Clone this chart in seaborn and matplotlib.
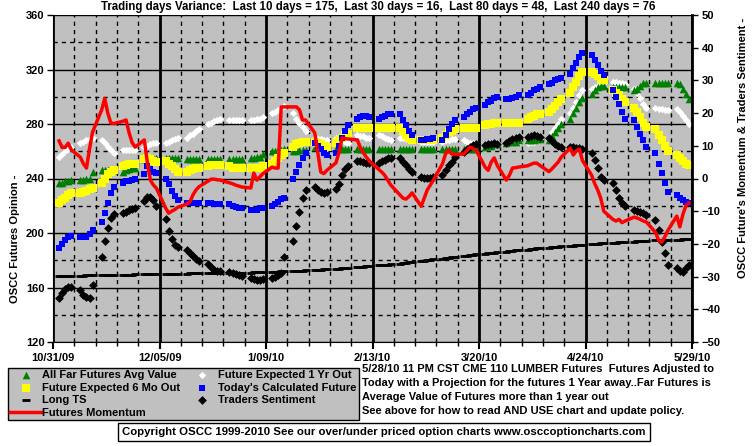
import matplotlib
matplotlib.use("Agg")
import matplotlib.pyplot as plt
import matplotlib.dates as mdates
from matplotlib.ticker import FixedLocator, MultipleLocator
import pandas as pd
import seaborn as sns

# Data: one value per trading day, 5 values per line = one week (Nov 2 2009 .. May 28 2010)
trade_days = pd.bdate_range("2009-11-02", "2010-05-28")

# left axis (OSCC Futures Opinion)
far_avg = [
    237, 237, 238, 238, 239,  239, 239, 240, 240, 245,  246, 246, 246, 247, 247,
    245, 246, 247, 248, 248,  254, 254, 255, 255, 255,  255, 255, 255, 255, 255,
    254, 254, 254, 254, 254,  254, 254, 254, 254, 254,  254, 254, 254, 254, 254,
    255, 255, 256, 256, 258,  260, 260, 261, 261, 262,  260, 260, 261, 261, 261,
    263, 264, 264, 264, 264,  262, 262, 262, 262, 262,  262, 262, 262, 262, 262,
    262, 262, 262, 262, 262,  262, 262, 262, 262, 262,  262, 262, 262, 262, 262,
    262, 262, 262, 262, 262,  262, 262, 262, 262, 262,  263, 264, 264, 265, 265,
    266, 267, 267, 267, 268,  268, 268, 268, 269, 269,  268, 271, 274, 277, 280,
    284, 288, 292, 296, 299,  302, 305, 307, 308, 308,  307, 307, 307, 307, 307,
    305, 306, 308, 310, 310,  310, 310, 310, 310, 310,  310, 309, 306, 302, 298,
]
six_mo = [
    222, 224, 226, 228, 229,  229, 230, 231, 232, 233,  237, 240, 243, 245, 246,
    249, 250, 251, 251, 251,  254, 255, 254, 253, 252,  253, 251, 249, 247, 245,
    245, 246, 247, 248, 248,  249, 250, 250, 250, 250,  249, 248, 248, 248, 248,
    248, 248, 248, 248, 249,  251, 253, 255, 257, 259,  263, 265, 266, 267, 267,
    267, 266, 265, 264, 263,  266, 268, 270, 272, 273,  277, 277, 277, 277, 277,
    277, 277, 277, 277, 277,  277, 275, 272, 270, 268,  268, 268, 268, 268, 268,
    270, 272, 274, 275, 276,  277, 277, 277, 277, 277,  279, 280, 280, 281, 281,
    281, 281, 281, 281, 281,  284, 285, 286, 287, 287,  289, 291, 293, 296, 298,
    303, 307, 311, 315, 318,  318, 317, 315, 313, 312,  305, 303, 301, 298, 296,
    292, 289, 285, 281, 278,  276, 272, 268, 264, 260,  257, 255, 253, 251, 250,
]
one_yr = [
    256, 258, 260, 262, 263,  266, 267, 268, 269, 270,  268, 266, 263, 261, 259,
    261, 261, 261, 261, 261,  263, 264, 265, 266, 266,  266, 267, 268, 269, 270,
    270, 272, 273, 275, 276,  280, 281, 282, 283, 284,  283, 283, 283, 283, 283,
    283, 283, 284, 284, 285,  288, 289, 290, 292, 293,  288, 284, 281, 278, 275,
    270, 269, 269, 268, 268,  270, 269, 268, 267, 266,  272, 271, 271, 270, 270,
    272, 271, 270, 269, 268,  270, 270, 269, 269, 268,  267, 267, 267, 267, 267,
    267, 268, 268, 269, 269,  268, 267, 266, 266, 265,  265, 265, 266, 266, 266,
    265, 266, 266, 267, 267,  266, 267, 267, 268, 269,  270, 274, 277, 280, 284,
    288, 292, 296, 301, 305,  306, 307, 308, 309, 310,  311, 311, 310, 310, 309,
    306, 303, 299, 295, 292,  292, 291, 291, 290, 290,  291, 289, 286, 283, 280,
]
today_calc = [
    189, 192, 195, 197, 198,  197, 197, 197, 199, 202,  208, 215, 222, 229, 234,
    237, 238, 238, 239, 240,  243, 249, 247, 245, 244,  240, 236, 231, 227, 224,
    222, 222, 222, 222, 222,  222, 222, 221, 221, 221,  221, 220, 219, 218, 218,
    217, 217, 217, 218, 218,  220, 221, 223, 225, 226,  240, 245, 250, 255, 259,
    266, 264, 262, 259, 257,  259, 264, 270, 275, 279,  284, 285, 286, 286, 285,
    284, 285, 286, 287, 287,  287, 283, 279, 275, 272,  268, 268, 269, 269, 270,
    268, 272, 276, 280, 283,  285, 287, 289, 291, 292,  294, 296, 297, 299, 300,
    298, 298, 299, 300, 301,  301, 303, 305, 306, 307,  309, 310, 312, 313, 314,
    317, 321, 325, 329, 332,  331, 327, 323, 319, 316,  305, 300, 295, 289, 284,
    283, 278, 273, 268, 263,  259, 251, 244, 237, 230,  228, 226, 224, 223, 222,
]

# right axis (Momentum & Traders Sentiment)
momentum = [
    11.5, 9.5, 9.5, 10.8, 8.8,  6.5, 4.5, 3.2, 9.0, 14.2,  21.0, 24.5, 20.0, 17.0, 16.8,
    17.5, 17.9, 14.0, 11.0, 9.6,  11.8, 5.0, -0.5, -2.0, -3.0,  -9.0, -10.6, -10.0, -9.5, -8.8,
    -7.8, -7.2, -5.0, -3.5, -2.5,  -0.8, -0.2, -0.2, -0.4, -0.5,  -1.3, -1.6, -2.0, -2.3, -2.6,
    -2.9, 1.7, -0.5, 0.5, 1.5,  3.5, 3.2, 3.2, 21.9, 21.9,  21.9, 21.9, 21.0, 17.9, 17.9,
    14.0, 8.0, 2.0, 1.5, 2.5,  4.8, 8.0, 12.4, 12.2, 12.1,  11.8, 9.5, 7.8, 6.5, 5.3,
    2.8, 2.0, 1.0, -0.5, -2.0,  -5.0, -6.0, -6.3, -5.5, -4.4,  -8.5, -6.0, -3.5, -2.0, -0.5,
    4.5, 7.5, 8.7, 7.5, 7.3,  7.5, 8.5, 9.6, 9.2, 8.7,  3.5, 2.5, 5.0, 6.3, 4.0,
    -0.5, 1.0, 3.2, 3.3, 3.5,  3.9, 4.3, 4.7, 4.7, 4.0,  2.1, 3.0, 4.0, 5.0, 6.5,
    9.3, 7.2, 8.5, 9.0, 5.5,  1.0, -1.5, -3.5, -6.0, -10.0,  -12.5, -13.0, -12.5, -13.5, -13.0,
    -11.8, -12.1, -12.5, -13.0, -13.3,  -16.5, -18.8, -19.5, -18.0, -16.0,  -11.5, -14.8, -11.0, -8.3, -7.5,
]
sentiment = [
    -36.5, -35.0, -33.8, -33.2, -33.2,  -34.0, -35.5, -36.2, -36.5, -32.6,  -24.0, -19.0, -15.0, -12.0, -11.0,
    -10.6, -10.2, -9.6, -9.3, -9.0,  -7.0, -5.7, -5.8, -6.5, -8.3,  -12.5, -16.0, -18.5, -20.3, -21.0,
    -21.8, -22.8, -23.8, -24.6, -25.2,  -26.0, -27.0, -28.0, -28.2, -28.4,  -28.6, -29.0, -29.3, -29.5, -29.8,
    -30.4, -30.8, -31.0, -31.0, -30.8,  -30.4, -30.0, -29.5, -28.9, -24.0,  -19.1, -14.5, -10.2, -6.0, -3.5,
    -2.6, -3.5, -4.2, -4.4, -4.0,  -3.3, -1.8, 1.2, 2.8, 3.8,  5.4, 5.3, 5.0, 4.7, 4.7,
    4.7, 5.2, 5.8, 6.3, 6.3,  6.3, 5.0, 4.0, 3.0, 2.0,  0.5, 0.3, 0.3, 0.3, 0.5,
    1.0, 2.5, 4.0, 5.0, 6.5,  8.0, 9.0, 9.6, 10.2, 10.5,  10.2, 10.4, 10.6, 10.8, 10.6,
    10.8, 11.4, 12.0, 12.4, 12.6,  12.6, 13.0, 13.3, 13.0, 12.8,  12.4, 11.5, 10.5, 9.8, 9.6,
    9.6, 9.5, 9.4, 9.3, 9.0,  7.8, 5.6, 3.1, 0.5, -0.5,  -1.5, -3.5, -6.0, -7.5, -8.5,
    -9.5, -10.0, -10.3, -10.5, -11.2,  -12.7, -15.7, -19.4, -22.8, -26.5,  -27.4, -28.3, -28.6, -27.4, -26.5,
]
long_ts = [
    -29.8, -29.8, -29.8, -29.7, -29.7,  -29.7, -29.7, -29.6, -29.6, -29.6,  -29.6, -29.5, -29.5, -29.5, -29.5,
    -29.4, -29.4, -29.4, -29.4, -29.3,  -29.3, -29.3, -29.3, -29.2, -29.2,  -29.2, -29.2, -29.1, -29.1, -29.1,
    -29.1, -29.0, -29.0, -29.0, -29.0,  -29.0, -29.0, -28.9, -28.9, -28.9,  -28.9, -28.9, -28.8, -28.8, -28.8,
    -28.8, -28.7, -28.7, -28.7, -28.6,  -28.6, -28.5, -28.5, -28.4, -28.4,  -28.3, -28.3, -28.2, -28.2, -28.1,
    -28.0, -28.0, -27.9, -27.8, -27.8,  -27.7, -27.6, -27.5, -27.4, -27.3,  -27.2, -27.1, -27.0, -26.9, -26.8,
    -26.6, -26.5, -26.4, -26.3, -26.2,  -26.0, -25.9, -25.7, -25.6, -25.5,  -25.3, -25.2, -25.0, -24.9, -24.7,
    -24.6, -24.4, -24.3, -24.1, -24.0,  -23.8, -23.7, -23.5, -23.4, -23.2,  -23.1, -22.9, -22.8, -22.7, -22.5,
    -22.4, -22.3, -22.1, -22.0, -21.9,  -21.8, -21.6, -21.5, -21.4, -21.3,  -21.2, -21.0, -20.9, -20.8, -20.7,
    -20.6, -20.5, -20.4, -20.3, -20.2,  -20.1, -20.0, -19.9, -19.8, -19.7,  -19.7, -19.6, -19.5, -19.4, -19.3,
    -19.3, -19.2, -19.1, -19.0, -19.0,  -18.9, -18.9, -18.8, -18.8, -18.7,  -18.7, -18.7, -18.6, -18.6, -18.6,
]

major_dates = ["2009-10-31", "2009-12-05", "2010-01-09", "2010-02-13",
               "2010-03-20", "2010-04-24", "2010-05-29"]
major_labels = ["10/31/09", "12/05/09", "1/09/10", "2/13/10", "3/20/10", "4/24/10", "5/29/10"]

title = ("Trading days Variance:  Last 10 days = 175,  Last 30 days = 16,  "
         "Last 80 days = 48,  Last 240 days = 76")
note_lines = [
    "5/28/10 11 PM CST CME 110 LUMBER Futures  Futures Adjusted to",
    "Today with a Projection for the futures 1 Year away..Far Futures is",
    "Average Value of Futures more than 1 year out",
    "See above for how to read AND USE chart and update policy.",
]
copyright_txt = ("Copyright OSCC 1999-2010 See our over/under priced option charts "
                 "www.osccoptioncharts.com")

df = pd.DataFrame({"date": trade_days, "far_avg": far_avg, "six_mo": six_mo,
                   "one_yr": one_yr, "today_calc": today_calc, "momentum": momentum,
                   "sentiment": sentiment, "long_ts": long_ts})

plt.rcParams['font.family'] = ['Liberation Sans', 'DejaVu Sans']
plt.rcParams['font.weight'] = 'bold'
plt.rcParams['font.size'] = 8

W, H = 755, 446
fig = plt.figure(figsize=(W / 100, H / 100), dpi=100)
fig.patch.set_facecolor('white')
ax = fig.add_axes([53 / W, 1 - 342 / H, 639 / W, 327 / H])
ax.set_facecolor('#C0C0C0')
ax2 = ax.twinx()

# left axis series
sns.scatterplot(data=df, x="date", y="one_yr", ax=ax, marker="D", s=14, color="white",
                edgecolor="white", linewidth=0, label="Future Expected 1 Yr Out", legend=False, zorder=3)
sns.scatterplot(data=df, x="date", y="far_avg", ax=ax, marker="^", s=30, color="#008000",
                edgecolor="#008000", linewidth=0, label="All Far Futures Avg Value", legend=False, zorder=3)
sns.scatterplot(data=df, x="date", y="six_mo", ax=ax, marker="s", s=32, color="#FFFF00",
                edgecolor="#FFFF00", linewidth=0, label="Future Expected 6 Mo Out", legend=False, zorder=4)
sns.scatterplot(data=df, x="date", y="today_calc", ax=ax, marker="s", s=24, color="#0000FF",
                edgecolor="#0000FF", linewidth=0, label="Today's Calculated Future", legend=False, zorder=5)

# right axis series
sns.scatterplot(data=df, x="date", y="long_ts", ax=ax2, marker="_", s=40, color="black",
                linewidth=2, label="Long TS", legend=False, zorder=3)
sns.scatterplot(data=df, x="date", y="sentiment", ax=ax2, marker="D", s=20, color="black",
                edgecolor="black", linewidth=0, label="Traders Sentiment", legend=False, zorder=4)
sns.lineplot(data=df, x="date", y="momentum", ax=ax2, color="#FF0000", linewidth=2.5,
             label="Futures Momentum", legend=False, zorder=5)

# axes ranges / ticks
xmin, xmax = pd.Timestamp(major_dates[0]), pd.Timestamp(major_dates[-1])
ax.set_xlim(xmin, xmax)
ax.set_ylim(120, 360)
ax2.set_ylim(-50, 50)

ax.xaxis.set_major_locator(FixedLocator(mdates.date2num(pd.to_datetime(major_dates))))
ax.xaxis.set_minor_locator(mdates.WeekdayLocator(byweekday=mdates.SA))
ax.set_xticklabels(major_labels)
ax.yaxis.set_major_locator(MultipleLocator(40))
ax.yaxis.set_minor_locator(MultipleLocator(20))
ax2.yaxis.set_major_locator(MultipleLocator(10))

ax.grid(which='major', axis='x', color='black', lw=2, ls='-')
ax.grid(which='minor', axis='x', color='black', lw=1, ls=(0, (3, 3)))
ax.grid(which='major', axis='y', color='black', lw=1, ls='-')
ax.grid(which='minor', axis='y', color='black', lw=1, ls=(0, (3, 3)))
ax.set_axisbelow(True)

ax.tick_params(axis='x', which='major', length=5, width=1.5, pad=3, labelsize=8)
ax.tick_params(axis='x', which='minor', length=3, width=1)
ax.tick_params(axis='y', which='major', length=4, width=1, pad=2, labelsize=8)
ax.tick_params(axis='y', which='minor', length=0)
ax2.tick_params(axis='y', which='major', length=4, width=1, pad=3, labelsize=8)

ax.set_xlabel("")
ax.set_ylabel("")
ax2.set_ylabel("")
for a in (ax, ax2):
    a.spines['top'].set_visible(False)
    for s in ('left', 'right', 'bottom'):
        a.spines[s].set_color('black')
ax2.spines['right'].set_linewidth(2)
ax2.spines['left'].set_visible(False)
ax2.spines['bottom'].set_visible(False)

# texts
def fx(x):
    return x / W

def fy(y):
    return 1 - y / H

fig.text(fx(378), fy(7), title, ha='center', va='center', fontsize=8.3, fontweight='bold')
fig.text(fx(15), fy(239), "OSCC Futures Opinion -", rotation=90, ha='center', va='center',
         fontsize=8, fontweight='bold')
fig.text(fx(743), fy(148), "OSCC Future's Momentum & Traders Sentiment -", rotation=90,
         ha='center', va='center', fontsize=8, fontweight='bold')
for yy, line in zip([369, 383, 397, 411], note_lines):
    fig.text(fx(362), fy(yy), line, ha='left', va='center', fontsize=8, fontweight='bold')
fig.text(fx(384), fy(432), copyright_txt, ha='center', va='center', fontsize=8.2, fontweight='bold',
         bbox=dict(boxstyle='square,pad=0.35', facecolor='white', edgecolor='black', lw=1))

# legend
h1, l1 = ax.get_legend_handles_labels()
h2, l2 = ax2.get_legend_handles_labels()
lookup = dict(zip(l1 + l2, h1 + h2))
order = ["All Far Futures Avg Value", "Future Expected 6 Mo Out", "Long TS", "Futures Momentum",
         "Future Expected 1 Yr Out", "Today's Calculated Future", "Traders Sentiment"]
leg = fig.legend([lookup[k] for k in order], order, ncol=2, loc='upper left',
                 bbox_to_anchor=(fx(8), fy(368)), frameon=True, fancybox=False,
                 facecolor='#C0C0C0', edgecolor='black', framealpha=1, borderpad=0.2,
                 labelspacing=0.22, handlelength=2.8, handletextpad=0.1, columnspacing=0.5,
                 borderaxespad=0, scatterpoints=1, prop={'weight': 'bold', 'size': 8})
leg.get_frame().set_linewidth(1)

fig.savefig("out.png", dpi=100)
